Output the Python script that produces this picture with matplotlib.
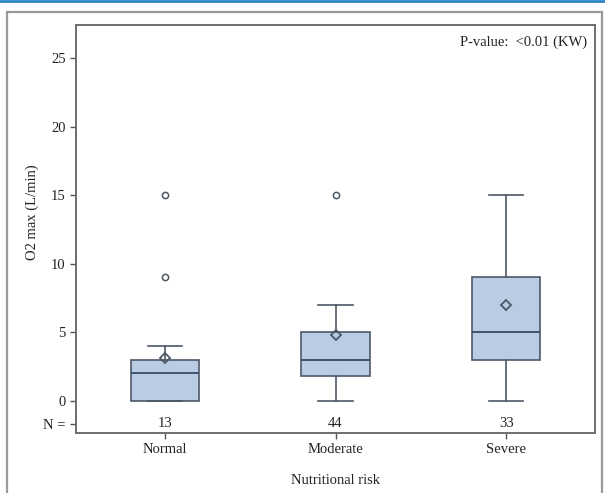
import matplotlib
matplotlib.use("Agg")
import matplotlib.pyplot as plt
from matplotlib.patches import Rectangle
from matplotlib.lines import Line2D

# values
groups = ["Normal", "Moderate", "Severe"]
counts = [13, 44, 33]
q1 = [0, 1.8, 3]
medians = [2, 3, 5]
q3 = [3, 5, 9]
whisk_lo = [0, 0, 0]
whisk_hi = [4, 7, 15]
means = [3.1, 4.8, 7]
outliers = [[9, 15], [15], []]
yticks = [0, 5, 10, 15, 20, 25]
n_row = -1.7

plt.rcParams['font.family'] = ['Liberation Serif', 'DejaVu Serif']
fs = 10.5

fig = plt.figure(figsize=(6.05, 4.93), dpi=100)
ax = fig.add_axes([76 / 605, 1 - 433 / 493, 519 / 605, 408 / 493])

stats = []
for i, g in enumerate(groups):
    stats.append(dict(label=g, q1=q1[i], med=medians[i], q3=q3[i],
                      whislo=whisk_lo[i], whishi=whisk_hi[i],
                      mean=means[i], fliers=outliers[i]))

edge = "#4d5866"
positions = [1, 2, 3]
ax.bxp(stats, positions=positions, widths=0.4, patch_artist=True,
       showmeans=True, meanline=False,
       boxprops=dict(facecolor="#b9cce4", edgecolor=edge, linewidth=1.2),
       medianprops=dict(color="#3f5470", linewidth=1.4),
       whiskerprops=dict(color=edge, linewidth=1.2),
       capprops=dict(color=edge, linewidth=1.2),
       capwidths=0.2,
       meanprops=dict(marker="D", markersize=5, markerfacecolor="none",
                      markeredgecolor=edge, markeredgewidth=1.3),
       flierprops=dict(marker="o", markersize=4.5, markerfacecolor="none",
                       markeredgecolor=edge, markeredgewidth=1.1))

for p, n in zip(positions, counts):
    ax.text(p, n_row, str(n), ha="center", va="center", fontsize=fs, color="#222222")

ax.set_xlim(0.48, 3.52)
ax.set_ylim(-2.36, 27.42)
ax.set_yticks([n_row] + yticks)
ax.set_yticklabels(["N ="] + [str(t) for t in yticks])
ax.set_xticks(positions)
ax.set_xticklabels(groups)
ax.tick_params(axis="both", labelsize=fs, colors="#222222", length=4, width=1,
               direction="out")
ax.tick_params(axis="both", color="#555555")
for s in ax.spines.values():
    s.set_color("#6e6e6e")
    s.set_linewidth(1.4)

ax.set_ylabel("O2 max (L/min)", fontsize=fs, color="#222222")
ax.yaxis.set_label_coords(-0.072, 0.54)
ax.set_xlabel("Nutritional risk", fontsize=fs, color="#222222", labelpad=13)

ax.text(0.985, 0.975, "P-value:  <0.01 (KW)", transform=ax.transAxes,
        ha="right", va="top", fontsize=fs, color="#222222")

# outer frame and blue rule at the top
fig.patches.append(Rectangle((7 / 605, -0.02), 595 / 605, 1 - 12 / 493 + 0.02,
                             transform=fig.transFigure, fill=False,
                             edgecolor="#9a9a9a", linewidth=1.6))
fig.lines.append(Line2D([0, 1], [1 - 1 / 493, 1 - 1 / 493], transform=fig.transFigure,
                        color="#2a85c8", linewidth=2))

fig.savefig("out.png", dpi=100)
